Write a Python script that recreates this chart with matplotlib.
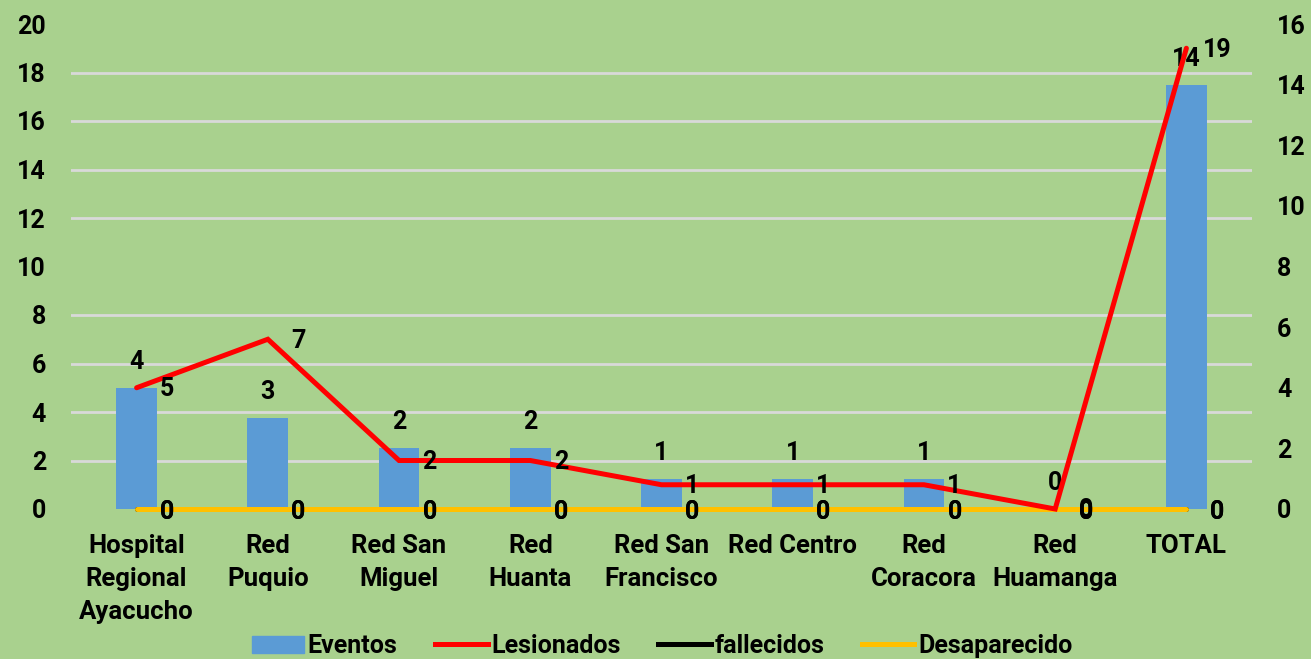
import matplotlib.pyplot as plt
from matplotlib.lines import Line2D
from matplotlib.patches import Patch

plt.rcParams['font.family'] = ['Roboto', 'DejaVu Sans']
plt.rcParams['font.weight'] = 'bold'

categorias = ["Hospital\nRegional\nAyacucho", "Red\nPuquio", "Red San\nMiguel", "Red\nHuanta",
              "Red San\nFrancisco", "Red Centro", "Red\nCoracora", "Red\nHuamanga", "TOTAL"]
eventos = [4, 3, 2, 2, 1, 1, 1, 0, 14]
lesionados = [5, 7, 2, 2, 1, 1, 1, 0, 19]
fallecidos = [0, 0, 0, 0, 0, 0, 0, 0, 0]
desaparecido = [0, 0, 0, 0, 0, 0, 0, 0, 0]

bg = "#A9D18E"
azul = "#5B9BD5"
rojo = "#FF0000"
amarillo = "#FFC000"

fig = plt.figure(figsize=(13.11, 6.59), dpi=100, facecolor=bg)
ax2 = fig.add_axes([71/1311, 1-509/659, (1252-71)/1311, (509-24)/659])  # barras, eje derecho
ax = ax2.twinx()  # lineas, eje izquierdo
ax.yaxis.tick_left()
ax2.yaxis.tick_right()
ax.set_zorder(ax2.get_zorder() + 1)
ax.patch.set_visible(False)
ax2.set_facecolor(bg)

x = list(range(len(categorias)))

bars = ax2.bar(x, eventos, width=0.31, color=azul, zorder=2)
ax2.bar_label(bars, padding=10, fontsize=18, fontweight='bold')
ax2.set_ylim(0, 16)
ax2.set_yticks(range(0, 17, 2))
# rejilla del eje izquierdo (0-20 de 2 en 2) dibujada detras de las barras
ax2.set_yticks([i * 16 / 20 for i in range(0, 21, 2)], minor=True)
ax2.grid(which='minor', axis='y', color='#D9D9D9', linewidth=2, zorder=0)
ax2.set_axisbelow(True)
ax2.tick_params(which='both', length=0)
ax2.tick_params(axis='y', labelsize=18, pad=18)

kw = dict(linewidth=3.6, solid_capstyle='round', clip_on=False)
ax.plot(x, fallecidos, color='black', **kw)
ax.plot(x, desaparecido, color=amarillo, **kw)
ax.plot(x, lesionados, color=rojo, solid_joinstyle='miter', **kw)
for xi, v in zip(x, lesionados):
    ax.annotate(str(v), (xi, v), xytext=(22, -1), textcoords='offset points',
                ha='center', va='center', fontsize=18, fontweight='bold')
for serie in (fallecidos, desaparecido):
    for xi, v in zip(x, serie):
        ax.annotate(str(v), (xi, v), xytext=(22, -2), textcoords='offset points',
                    ha='center', va='center', fontsize=18, fontweight='bold')
ax.set_ylim(0, 20)
ax.set_yticks(range(0, 21, 2))
ax.tick_params(length=0)
ax.tick_params(axis='y', labelsize=18, pad=18)

ax2.set_xlim(-0.5, len(categorias) - 0.5)
ax2.set_xticks(x)
ax2.set_xticklabels(categorias, fontsize=18.5, fontweight='bold', linespacing=1.47)
ax2.tick_params(axis='x', pad=18)

for a in (ax, ax2):
    for s in a.spines.values():
        s.set_visible(False)

handles = [Patch(color=azul), Line2D([], [], color=rojo, linewidth=3.6),
           Line2D([], [], color='black', linewidth=3.6), Line2D([], [], color=amarillo, linewidth=3.6)]
fig.legend(handles, ["Eventos", "Lesionados", "fallecidos", "Desaparecido"],
           loc='center', bbox_to_anchor=(662/1311, 1-646/659), ncol=4, frameon=False,
           fontsize=18, handlelength=2.1, handletextpad=0.15, columnspacing=1.5)

fig.savefig("out.png", dpi=100, facecolor=bg)
